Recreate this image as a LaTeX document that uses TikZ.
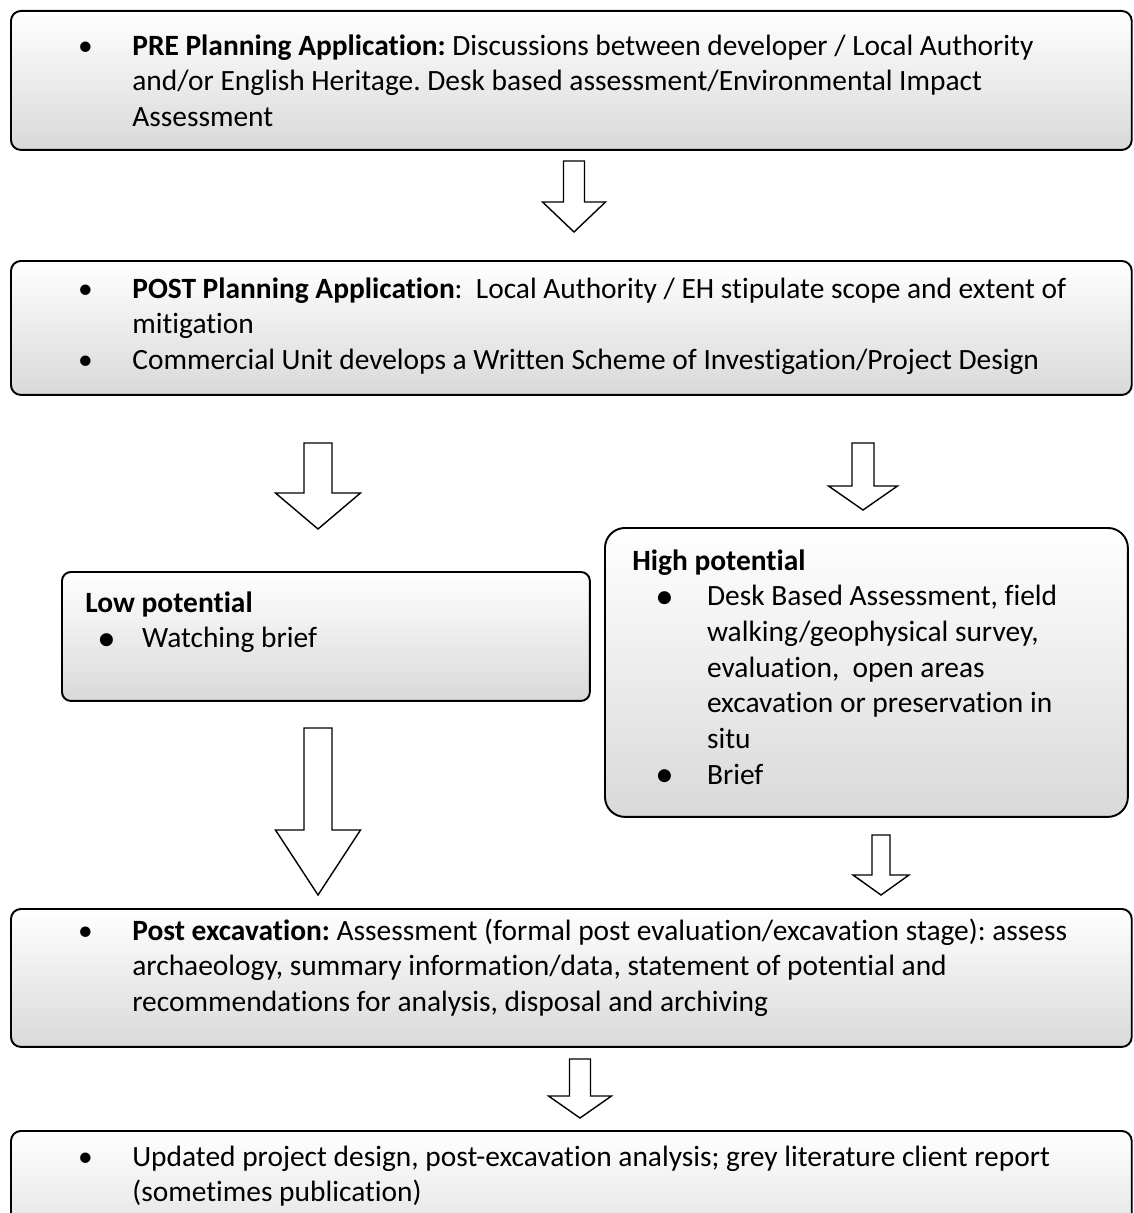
\documentclass[tikz,border=0pt]{standalone}
\usepackage{fontspec}
\setmainfont{Carlito}[Ligatures=NoCommon]
\usepackage{graphicx}
\frenchspacing

\newcommand{\blockarrow}[6]{%
\draw[barrow] (#1-#5,#2) -- (#1+#5,#2) -- (#1+#5,#3) -- (#1+#6,#3) -- (#1,#4) -- (#1-#6,#3) -- (#1-#5,#3) -- cycle;}
\newcommand{\smallbul}{\llap{\textbullet\hspace{22.5pt}}}
\newcommand{\bigbul}[1]{\llap{\raisebox{-0.08em}{\scalebox{1.25}{\textbullet}}\hspace{#1}}}

\begin{document}
\begin{tikzpicture}[x=0.02cm, y=-0.02cm,
  stage/.style={draw, line width=1.1pt, rounded corners=0.2cm, top color=white, bottom color=black!15, anchor=north west, inner sep=0pt},
  txt/.style={anchor=north west, align=left, inner sep=0pt, font=\fontsize{16.75}{20.3}\selectfont},
  barrow/.style={draw, fill=white, line width=0.8pt, line join=miter}]

\useasboundingbox (0,0) rectangle (1133,1213);

\node[stage, minimum width=22.42cm, minimum height=2.78cm] (pre) at (10,10) {};
\node[stage, minimum width=22.42cm, minimum height=2.68cm] (post) at (10,260) {};
\node[stage, minimum width=10.56cm, minimum height=2.58cm, rounded corners=0.18cm] (low) at (61,571) {};
\node[stage, minimum width=10.46cm, minimum height=5.78cm, rounded corners=0.4cm] (high) at (604,527) {};
\node[stage, minimum width=22.42cm, minimum height=2.76cm] (postex) at (10,908) {};
\node[stage, minimum width=22.42cm, minimum height=2.9cm] (report) at (10,1130) {};

\node[txt] (pre-t) at (132,30) {\strut\smallbul\textbf{PRE Planning Application:} Discussions between developer / Local Authority\\
and/or English Heritage. Desk based assessment/Environmental Impact\\
Assessment};
\node[txt] (post-t) at (132,273) {\strut\smallbul\textbf{POST Planning Application}:~ Local Authority / EH stipulate scope and extent of\\
mitigation\\
\smallbul Commercial Unit develops a Written Scheme of Investigation/Project Design};
\node[txt] (low-t) at (85,587) {\strut\textbf{Low potential}\\
\hspace*{32.3pt}\bigbul{15pt}Watching brief};
\node[txt] (high-t) at (632,545) {\strut\textbf{High potential}\\
\hspace*{42.5pt}\bigbul{19pt}Desk Based Assessment, field\\
\hspace*{42.5pt}walking/geophysical survey,\\
\hspace*{42.5pt}evaluation,~ open areas\\
\hspace*{42.5pt}excavation or preservation in\\
\hspace*{42.5pt}situ\\
\hspace*{42.5pt}\bigbul{19pt}Brief};
\node[txt] (postex-t) at (132,915) {\strut\smallbul\textbf{Post excavation:} Assessment (formal post evaluation/excavation stage): assess\\
archaeology, summary information/data, statement of potential and\\
recommendations for analysis, disposal and archiving};
\node[txt] (report-t) at (132,1141) {\strut\smallbul Updated project design, post-excavation analysis; grey literature client report\\
(sometimes publication)};

\blockarrow{574}{161}{202}{232}{10.5}{31.5}
\blockarrow{318}{443}{493}{529}{14}{42.5}
\blockarrow{863}{443}{486}{510}{11}{34.5}
\blockarrow{318}{728}{830}{895}{14}{42.5}
\blockarrow{881}{835}{875}{895}{9}{28}
\blockarrow{580}{1059}{1096}{1118}{10.5}{31.5}

\end{tikzpicture}
\end{document}
